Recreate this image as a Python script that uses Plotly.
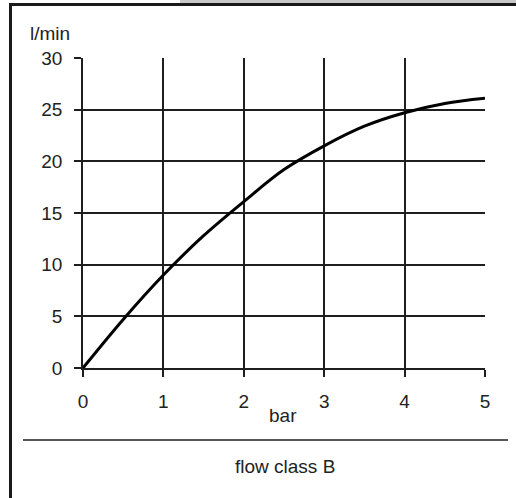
import plotly.graph_objects as go

# pressure (bar) vs flow (l/min)
pressure = [0, 0.5, 1, 1.5, 2, 2.5, 3, 3.5, 4, 4.5, 5]
flow = [0, 4.7, 9.0, 12.8, 16.1, 19.2, 21.5, 23.4, 24.7, 25.6, 26.1]

x_ticks = [0, 1, 2, 3, 4, 5]
y_ticks = [0, 5, 10, 15, 20, 25, 30]
x_grid = [1, 2, 3, 4]
y_grid = [5, 10, 15, 20, 25]

W, H = 516, 498
L, R, T, B = 83, 31, 58, 130  # plot area: x 83..485, y 58..368
FONT = "Liberation Sans, Arial, sans-serif"
INK = "#1e1e1e"


def px(x):  # pixel -> paper x
    return (x - L) / (W - L - R)


def py(y):  # pixel -> paper y
    return (H - B - y) / (H - T - B)


fig = go.Figure()
fig.add_trace(go.Scatter(x=pressure, y=flow, mode="lines",
                         line=dict(color="black", width=3, shape="spline"),
                         hoverinfo="skip"))

axis_common = dict(
    showline=True, linecolor=INK, linewidth=1.5,
    ticks="outside", ticklen=7, tickcolor=INK, tickwidth=1.5,
    showgrid=False, zeroline=False,
    tickfont=dict(family=FONT, size=19, color="#222"),
)

fig.update_xaxes(range=[0, 5], tickvals=x_ticks, ticklabelstandoff=8,
                 minor=dict(tickvals=x_grid, ticks="inside", ticklen=0,
                            showgrid=True, gridcolor=INK, gridwidth=1.5),
                 **axis_common)
fig.update_yaxes(range=[0, 30], tickvals=y_ticks, ticklabelstandoff=8,
                 minor=dict(tickvals=y_grid, ticks="inside", ticklen=0,
                            showgrid=True, gridcolor=INK, gridwidth=1.5),
                 **axis_common)

shapes = [
    # grey strip and black frame at top / left
    dict(type="rect", xref="paper", yref="paper", x0=px(180), x1=px(W), y0=py(0), y1=py(3),
         fillcolor="#c8c8c8", line_width=0, layer="above"),
    dict(type="rect", xref="paper", yref="paper", x0=px(9), x1=px(W), y0=py(3), y1=py(6),
         fillcolor="#1a1a1a", line_width=0, layer="above"),
    dict(type="rect", xref="paper", yref="paper", x0=px(9), x1=px(12), y0=py(3), y1=py(H),
         fillcolor="#1a1a1a", line_width=0, layer="above"),
    # separator above the caption
    dict(type="line", xref="paper", yref="paper", x0=px(23), x1=px(508), y0=py(440), y1=py(440),
         line=dict(color=INK, width=1.5)),
]

annotations = [
    dict(text="l/min", xref="paper", yref="paper", x=px(28), y=py(33),
         xanchor="left", yanchor="middle", showarrow=False,
         font=dict(family=FONT, size=19, color="#222")),
    dict(text="bar", xref="paper", yref="paper", x=px(283), y=py(415),
         xanchor="center", yanchor="middle", showarrow=False,
         font=dict(family=FONT, size=19, color="#222")),
    dict(text="flow class B", xref="paper", yref="paper", x=px(285), y=py(466),
         xanchor="center", yanchor="middle", showarrow=False,
         font=dict(family=FONT, size=19, color="#222")),
]

fig.update_layout(
    width=W, height=H,
    margin=dict(l=L, r=R, t=T, b=B),
    paper_bgcolor="white", plot_bgcolor="white",
    showlegend=False,
    shapes=shapes,
    annotations=annotations,
)

# drop the default page margin so the figure sits at the window corner
fig.write_html("out.html", config={"displayModeBar": False},
               post_script="document.body.style.margin='0';")
